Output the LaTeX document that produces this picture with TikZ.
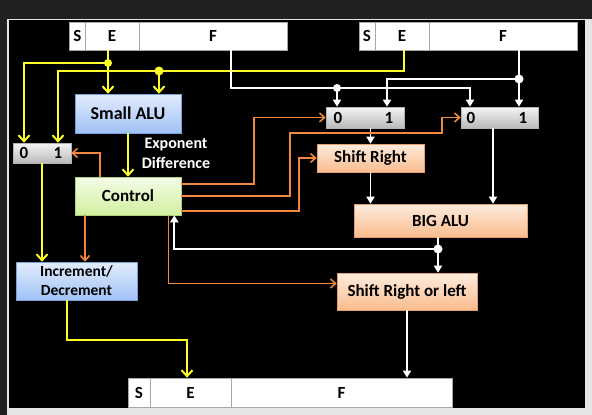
\documentclass[tikz,border=0pt]{standalone}
\usepackage{fontspec}
\setmainfont{Carlito}
\usepackage{tikz}
\usetikzlibrary{arrows.meta}
\usetikzlibrary{calc}

\definecolor{ylwc}{RGB}{255,255,40}
\definecolor{orgc}{RGB}{240,135,60}
\definecolor{framebg}{RGB}{32,32,32}
\definecolor{bluetop}{RGB}{226,236,252}
\definecolor{bluebot}{RGB}{160,194,246}
\definecolor{blueline}{RGB}{120,160,220}
\definecolor{grntop}{RGB}{246,252,232}
\definecolor{grnbot}{RGB}{208,240,160}
\definecolor{grnline}{RGB}{170,210,120}
\definecolor{orgtop}{RGB}{254,236,222}
\definecolor{orgbot}{RGB}{249,188,142}
\definecolor{orgline}{RGB}{230,160,110}

\begin{document}
\begin{tikzpicture}[x=1pt,y=-1pt,
  every node/.style={font=\bfseries\fontsize{17}{19}\selectfont},
  cell/.style={draw=gray!70,fill=white,line width=0.8pt,minimum height=28pt,inner sep=0pt},
  unit/.style={draw=#1line,line width=0.6pt,inner sep=0pt,
    top color=#1top,bottom color=#1bot},
  mux/.style={draw=gray!60,line width=0.6pt,inner sep=0pt,minimum height=21pt,
    top color=gray!8,bottom color=gray!55},
  bit/.style={inner sep=0pt},
  ylw/.style={draw=ylwc,line width=2pt,-{Straight Barb[length=6pt,width=11pt]}},
  wht/.style={draw=white,line width=1.8pt,-{Triangle[length=7pt,width=8pt]}},
  org/.style={draw=orgc,line width=1.6pt,-{Straight Barb[length=5pt,width=9pt]}}]
\useasboundingbox (0,0) rectangle (592,415);
\fill[framebg] (0,0) rectangle (592,415);
\fill[gray!20] (7,18.5) rectangle (592,415);
\fill[black] (8.5,20) rectangle (584.5,408);

% registers
\node[cell,minimum width=16pt] (s1) at (77.5,36) {S};
\node[cell,minimum width=54pt] (e1) at (112,36) {E};
\node[cell,minimum width=148pt] (f1) at (213,36) {F};
\node[cell,minimum width=16pt] (s2) at (367,36) {S};
\node[cell,minimum width=54pt] (e2) at (402,36) {E};
\node[cell,minimum width=148pt] (f2) at (503,36) {F};
\node[cell,minimum width=22pt,minimum height=29pt] (s3) at (139,392.5) {S};
\node[cell,minimum width=81pt,minimum height=29pt] (e3) at (190.5,392.5) {E};
\node[cell,minimum width=221pt,minimum height=29pt] (f3) at (341.5,392.5) {F};

% units
\node[unit=blue,minimum width=106pt,minimum height=39pt,
  font=\bfseries\fontsize{18}{20}\selectfont] (salu) at (128,113.5) {Small ALU};
\node[unit=grn,minimum width=106pt,minimum height=38pt] (ctrl) at (128,196) {Control};
\node[unit=blue,minimum width=121pt,minimum height=38pt,align=center,
  font=\bfseries\fontsize{15.5}{19}\selectfont] (incdec) at (76.5,281) {Increment/\\Decrement};
\node[unit=org,minimum width=107pt,minimum height=28pt] (shr) at (370.5,158) {Shift Right};
\node[unit=org,minimum width=173pt,minimum height=33pt] (bigalu) at (440.5,220.5) {BIG ALU};
\node[unit=org,minimum width=140pt,minimum height=37pt] (shrl) at (407,291.5) {Shift Right or left};
\node[text=white,align=center,font=\bfseries\fontsize{16}{20}\selectfont] (expd) at (176,153) {Exponent\\Difference};

% multiplexers
\node[mux,minimum width=58pt,minimum height=20pt] (muxL) at (42,153) {};
\node[mux,minimum width=78pt] (muxA) at (365,117.5) {};
\node[mux,minimum width=77pt] (muxB) at (499.5,117.5) {};
\node[bit] (mL0) at (24,153) {0};
\node[bit] (mL1) at (58,153) {1};
\node[bit] (mA0) at (338,117.5) {0};
\node[bit] (mA1) at (389,117.5) {1};
\node[bit] (mB0) at (471,117.5) {0};
\node[bit] (mB1) at (523,117.5) {1};

% junctions
\coordinate (jE1) at (108,63);
\coordinate (jE2) at (404,71);
\coordinate (jE2d) at (159,71);
\coordinate (jF1) at (231,88);
\coordinate (jF1d) at (337,88);
\coordinate (jF1e) at (470,88);
\coordinate (jF2) at (519,79);
\coordinate (jF2c) at (387,79);
\coordinate (jBig) at (438,249);
\coordinate (jY) at (67,340);
\coordinate (jY2) at (187,340);

% exponent paths
\draw[ylw,-] (e1.south -| jE1) -- (jE1);
\draw[ylw] (jE1) -- (salu.north -| jE1);
\draw[ylw] (jE1) -| (muxL.north -| mL0);
\draw[ylw] (e2.south -| jE2) -- (jE2) -| (muxL.north -| mL1);
\draw[ylw] (jE2d) -- (salu.north -| jE2d);
\draw[ylw] (salu) -- (ctrl);
\draw[ylw] (muxL) -- (incdec.north -| muxL);
\draw[ylw] (incdec.south -| jY) -- (jY) -- (jY2) -- (e3.north -| jY2);
\fill[ylwc] (jE1) circle (4pt) (jE2d) circle (4.5pt);

% fraction paths
\draw[wht] (f1.south -| jF1) -- (jF1) -| (muxB.north -| jF1e);
\draw[wht] (jF1d) -- (muxA.north -| jF1d);
\draw[wht] (f2.south -| jF2) -- (muxB.north -| jF2);
\draw[wht] (jF2) -| (muxA.north -| jF2c);
\draw[wht] (muxA.south -| shr) -- (shr);
\draw[wht] (shr) -- (bigalu.north -| shr);
\draw[wht] ([xshift=-6.5pt]muxB.south) coordinate (mBo) -- (bigalu.north -| mBo);
\draw[wht] (bigalu.south -| jBig) -- (shrl.north -| jBig);
\draw[wht] (jBig) -| ([xshift=-7pt]ctrl.south east);
\draw[wht] (shrl) -- (f3.north -| shrl);
\fill[white] (jF1d) circle (4pt) (jF2) circle (4.5pt) (jBig) circle (4.5pt);

% control lines
\draw[org] ([yshift=12pt]ctrl.east) -| ($(muxA.west)+(-72,0)$) -- (muxA.west);
\draw[org] (ctrl.east) -| (290,133) -| ($(muxB.west)+(-19,0)$) -- (muxB.west);
\draw[org] ([yshift=-15pt]ctrl.east) -| ($(shr.west)+(-18,0)$) -- (shr.west);
\draw[org] ([xshift=-28pt]ctrl.north) |- (muxL.east);
\draw[org] ([xshift=-43pt]ctrl.south) coordinate (cO) -- (incdec.north -| cO);
\draw[org] ([xshift=-13pt]ctrl.south east) |- ([yshift=8pt]shrl.west);
\end{tikzpicture}
\end{document}
